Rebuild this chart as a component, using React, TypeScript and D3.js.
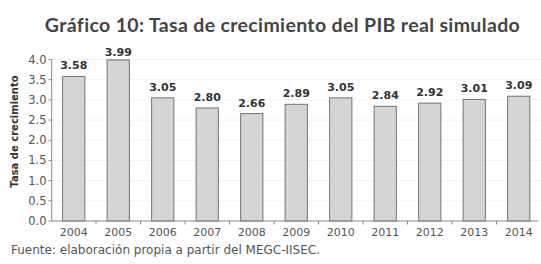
import React from "react";
import * as d3 from "d3";

const years = ["2004","2005","2006","2007","2008","2009","2010","2011","2012","2013","2014"];
const growth = [3.58,3.99,3.05,2.80,2.66,2.89,3.05,2.84,2.92,3.01,3.09];
const yTicks = [0,0.5,1,1.5,2,2.5,3,3.5,4];
const title = "Gráfico 10: Tasa de crecimiento del PIB real simulado";
const yLabel = "Tasa de crecimiento";
const source = "Fuente: elaboración propia a partir del MEGC-IISEC.";

const W = 541, H = 264;
const font = "'DejaVu Sans', 'Open Sans', sans-serif";
const titleFont = "Lato, 'Open Sans', sans-serif";

export default function App() {
  const x = d3.scaleBand<string>().domain(years).range([51.5, 541]).paddingInner(0.5).paddingOuter(0.25);
  const y = d3.scaleLinear().domain([0, 4]).range([221, 59.5]);
  const step = x.step();
  const boundaries = years.map((yr) => (x(yr) as number) - step * 0.25);
  return (
    <svg width={W} height={H} style={{ position: "absolute", left: 0, top: 0, background: "#fff" }}>
      <defs>
        <pattern id="dots" width="2" height="2" patternUnits="userSpaceOnUse">
          <rect width="2" height="2" fill="#d8d8d8" />
          <rect width="1" height="1" fill="#cbcbcb" />
        </pattern>
      </defs>
      <rect width={W} height={H} fill="#fff" />
      <text x={282.5} y={32} textAnchor="middle" fontFamily={titleFont} fontWeight="bold" fontSize={19.5}
        fill="#444" letterSpacing={0.35}>{title}</text>
      {yTicks.filter((t) => t > 0).map((t) => (
        <line key={"g" + t} x1={52} x2={541} y1={y(t)} y2={y(t)} stroke="#f3f3f3" strokeWidth={1} />
      ))}
      {years.map((yr, i) => (
        <rect key={yr} x={x(yr)} y={y(growth[i])} width={x.bandwidth()} height={y(0) - y(growth[i])}
          fill="url(#dots)" stroke="#737373" strokeWidth={1} />
      ))}
      {years.map((yr, i) => (
        <text key={"v" + yr} x={(x(yr) as number) + x.bandwidth() / 2}
          y={Math.max(y(growth[i]) - 7, 56)} textAnchor="middle" fontFamily={font}
          fontWeight="bold" fontSize={11} fill="#333">{growth[i].toFixed(2)}</text>
      ))}
      <line x1={51.7} x2={51.7} y1={y(4)} y2={y(0)} stroke="#888" />
      {yTicks.map((t) => (
        <g key={"t" + t}>
          <line x1={48.5} x2={51.7} y1={y(t)} y2={y(t)} stroke="#888" />
          <text x={46.5} y={y(t) + 4} textAnchor="end" fontFamily={font} fontSize={11.5} fill="#555">{t.toFixed(1)}</text>
        </g>
      ))}
      <line x1={51.7} x2={538} y1={y(0)} y2={y(0)} stroke="#888" />
      {boundaries.slice(1).map((b, i) => (
        <line key={"b" + i} x1={b} x2={b} y1={y(0)} y2={y(0) + 3.5} stroke="#888" />
      ))}
      {years.map((yr) => (
        <text key={"l" + yr} x={(x(yr) as number) + x.bandwidth() / 2} y={235.5} textAnchor="middle"
          fontFamily={font} fontSize={11} fill="#555">{yr}</text>
      ))}
      <text transform={`translate(17.5,131.5) rotate(-90)`} textAnchor="middle" fontFamily={font}
        fontWeight="bold" fontSize={10} fill="#333">{yLabel}</text>
      <text x={11} y={254} fontFamily={font} fontSize={12} fill="#555">{source}</text>
    </svg>
  );
}
